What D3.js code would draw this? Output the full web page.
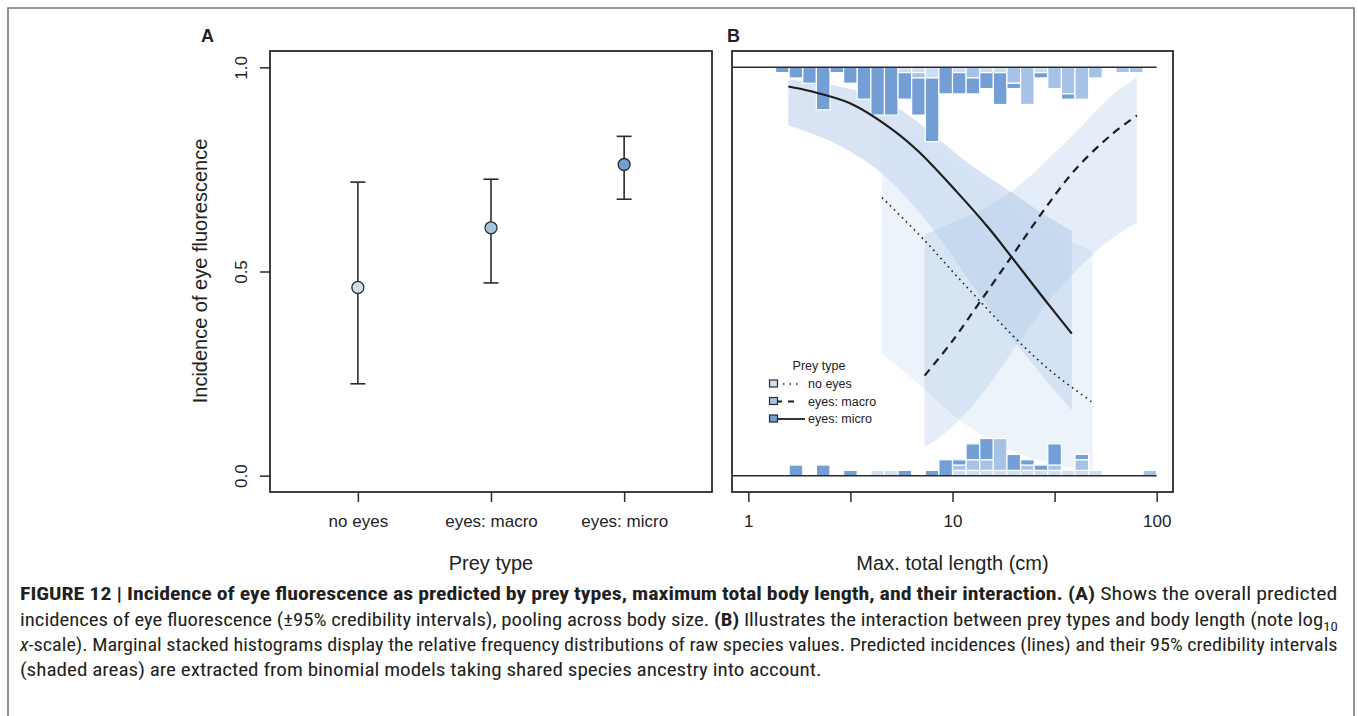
<!DOCTYPE html>
<html><head><meta charset="utf-8">
<script src="https://cdn.jsdelivr.net/npm/d3@7"></script>
<style>body{margin:0;background:#fff} svg{display:block} text{font-family:"Liberation Sans",Arial,sans-serif;fill:#222}</style>
</head><body><svg id="c" width="1358" height="716"></svg>
<script>
// ---------- data ----------
const preyTypes = ["no eyes", "eyes: macro", "eyes: micro"];
const predMean  = [0.461, 0.607, 0.762];
const predLower = [0.225, 0.472, 0.677];
const predUpper = [0.719, 0.726, 0.831];
const yTicks = [0, 0.5, 1];
const yTickLabels = ["0.0", "0.5", "1.0"];
const xTicksB = [1, 3.1623, 10, 31.623, 100];
const xTickLabelsB = ["1", "", "10", "", "100"];

// predicted lines (x in cm, y incidence)
const microX = [1.57, 2, 3.15, 5, 6.78, 10.5, 15, 19.5, 28, 38.4];
const microY = [0.953, 0.942, 0.912, 0.85, 0.795, 0.695, 0.607, 0.535, 0.434, 0.348];
const macroX = [7.3, 10, 13.6, 19.5, 28, 40, 60, 80];
const macroY = [0.245, 0.33, 0.425, 0.537, 0.65, 0.75, 0.835, 0.882];
const noeyesX = [4.52, 7.34, 10, 13.6, 20, 30, 48.6];
const noeyesY = [0.681, 0.575, 0.50, 0.428, 0.34, 0.258, 0.179];

// credibility bands
const microBandX  = [1.57, 2, 3, 5, 7, 9, 12, 20, 28, 38.4];
const microBandHi = [0.97, 0.965, 0.95, 0.91, 0.86, 0.815, 0.765, 0.69, 0.64, 0.60];
const microBandLo = [0.858, 0.84, 0.80, 0.72, 0.64, 0.57, 0.48, 0.33, 0.24, 0.16];
const macroBandX  = [7.3, 10, 15, 20, 30, 40, 60, 80];
const macroBandHi = [0.59, 0.62, 0.66, 0.70, 0.78, 0.84, 0.93, 0.975];
const macroBandLo = [0.07, 0.12, 0.22, 0.31, 0.43, 0.50, 0.58, 0.62];
const noeyesBandX  = [4.52, 7, 10, 15, 20, 30, 48.6];
const noeyesBandHi = [0.858, 0.82, 0.77, 0.71, 0.66, 0.60, 0.55];
const noeyesBandLo = [0.30, 0.22, 0.15, 0.09, 0.06, 0.03, 0.015];

// marginal histograms: counts per log10 bin (bin k spans k/15 .. (k+1)/15)
const topNo  = [0,0,0,0,0,0,0,0,0,0,0,1,1,2,0,1,0,1,1,0,0,1,0,0,0,0,0,0,0,0];
const topMac = [0,0,0,0,0,0,0,0,0,0,0,0,1,0,0,0,2,0,0,3,7,0,4,5,6,2,0,1,1,0];
const topMic = [0,0,1,2,3,8,1,3,6,9,9,5,7,12,5,4,3,3,6,1,0,1,0,1,0,0,0,0,0,0];
const botNo  = [0,0,0,0,0,0,0,0,0,1,1,0,0,0,0,1,1,1,1,1,1,1,1,1,1,1,0,0,0,0];
const botMac = [0,0,0,0,0,0,0,0,0,0,0,0,0,0,0,1,2,2,6,0,1,0,1,0,2,0,0,0,0,1];
const botMic = [0,0,0,2,0,2,0,1,0,0,0,1,0,1,3,1,3,4,0,3,1,1,4,0,1,0,0,0,0,0];
const binsPerDecade = 15;
const histUnit = 0.013;

// ---------- style ----------
const colNo = "#cfdff2", colMac = "#a6c3e7", colMic = "#739fd6";
const axisCol = "#2b2b2b";
const tickFs = 17, labFs = 20;

const svg = d3.select("#c");

// outer frame
svg.append("path").attr("d", "M8,716 V8 H1354 V716").attr("fill", "none")
   .attr("stroke", "#777").attr("stroke-width", 1.6);

// ---------- scales ----------
const y = d3.scaleLinear().domain([-0.04, 1.04]).range([492, 51]);
const xA = d3.scaleLinear().domain([0.34, 3.66]).range([270, 712]);
const xB = d3.scaleLog().domain([Math.pow(10, -0.08), Math.pow(10, 2.08)]).range([732, 1173]);

// ---------- Panel A ----------
const gA = svg.append("g");
gA.append("rect").attr("x", xA.range()[0]).attr("y", y.range()[1])
  .attr("width", xA.range()[1] - xA.range()[0]).attr("height", y.range()[0] - y.range()[1])
  .attr("fill", "none").attr("stroke", axisCol).attr("stroke-width", 1.8);

const yAxis = gA.append("g").attr("transform", `translate(${xA.range()[0]},0)`)
  .call(d3.axisLeft(y).tickValues(yTicks).tickSize(10).tickFormat((d, i) => yTickLabels[i]));
yAxis.select(".domain").remove();
yAxis.selectAll("line").attr("stroke", axisCol).attr("stroke-width", 1.5);
yAxis.selectAll("text").attr("font-size", tickFs).attr("fill", "#222")
  .attr("x", null).attr("y", null).attr("text-anchor", "middle").attr("dy", "0.35em")
  .attr("transform", "translate(-29,0) rotate(-90)");

const xAxisA = gA.append("g").attr("transform", `translate(0,${y.range()[0]})`)
  .call(d3.axisBottom(xA).tickValues([1, 2, 3]).tickSize(10).tickPadding(13).tickFormat((d) => preyTypes[d - 1]));
xAxisA.select(".domain").remove();
xAxisA.selectAll("line").attr("stroke", axisCol).attr("stroke-width", 1.5);
xAxisA.selectAll("text").attr("font-size", tickFs).attr("fill", "#222");

gA.append("text").attr("x", 491).attr("y", 570).attr("text-anchor", "middle")
  .attr("font-size", labFs).text("Prey type");
gA.append("text").attr("transform", `translate(207,271) rotate(-90)`).attr("text-anchor", "middle")
  .attr("font-size", labFs).text("Incidence of eye fluorescence");
svg.append("text").attr("x", 201).attr("y", 42).attr("font-size", 18).attr("font-weight", "bold").text("A");

const ptCols = [colNo, colMac, colMic];
preyTypes.forEach((p, i) => {
  const cx = xA(i + 1);
  gA.append("line").attr("x1", cx).attr("x2", cx).attr("y1", y(predLower[i])).attr("y2", y(predUpper[i]))
    .attr("stroke", axisCol).attr("stroke-width", 1.6);
  [predLower[i], predUpper[i]].forEach(v => gA.append("line").attr("x1", cx - 7.5).attr("x2", cx + 7.5)
    .attr("y1", y(v)).attr("y2", y(v)).attr("stroke", axisCol).attr("stroke-width", 1.6));
  gA.append("circle").attr("cx", cx).attr("cy", y(predMean[i])).attr("r", 6)
    .attr("fill", ptCols[i]).attr("stroke", axisCol).attr("stroke-width", 1.3);
});

// ---------- Panel B ----------
const gB = svg.append("g");
const bandData = [
  {x: microBandX, hi: microBandHi, lo: microBandLo, col: colMic, op: 0.28},
  {x: noeyesBandX, hi: noeyesBandHi, lo: noeyesBandLo, col: colNo, op: 0.38},
  {x: macroBandX, hi: macroBandHi, lo: macroBandLo, col: colMac, op: 0.30}
];
const area = d3.area().x(d => xB(d.x)).y0(d => y(d.lo)).y1(d => y(d.hi)).curve(d3.curveMonotoneX);
bandData.forEach(b => {
  const pts = b.x.map((v, i) => ({x: v, hi: b.hi[i], lo: b.lo[i]}));
  gB.append("path").attr("d", area(pts)).attr("fill", b.col).attr("fill-opacity", b.op);
});

// histograms
function drawHist(series, cols, top) {
  const n = series[0].length;
  for (let k = 0; k < n; k++) {
    const x0 = xB(Math.pow(10, k / binsPerDecade));
    const x1 = xB(Math.pow(10, (k + 1) / binsPerDecade));
    let acc = 0;
    series.forEach((s, j) => {
      const c = s[k];
      if (!c) return;
      const a = acc * histUnit, b = (acc + c) * histUnit;
      const v0 = top ? 1 - a : a, v1 = top ? 1 - b : b;
      gB.append("rect").attr("x", x0).attr("width", x1 - x0)
        .attr("y", Math.min(y(v0), y(v1))).attr("height", Math.abs(y(v0) - y(v1)))
        .attr("fill", cols[j]).attr("stroke", "#fff").attr("stroke-width", 1.2);
      acc += c;
    });
  }
}
drawHist([topNo, topMac, topMic], [colNo, colMac, colMic], true);
drawHist([botNo, botMac, botMic], [colNo, colMac, colMic], false);

// baseline lines
[0, 1].forEach(v => gB.append("line").attr("x1", xB.range()[0]).attr("x2", xB(100))
  .attr("y1", y(v)).attr("y2", y(v)).attr("stroke", axisCol).attr("stroke-width", 1.5));

// predicted lines
const line = d3.line().x(d => xB(d[0])).y(d => y(d[1])).curve(d3.curveCatmullRom.alpha(0.5));
gB.append("path").attr("d", line(microX.map((v, i) => [v, microY[i]])))
  .attr("fill", "none").attr("stroke", "#1e1e1e").attr("stroke-width", 2.2);
gB.append("path").attr("d", line(macroX.map((v, i) => [v, macroY[i]])))
  .attr("fill", "none").attr("stroke", "#1e1e1e").attr("stroke-width", 2.2).attr("stroke-dasharray", "8,6");
gB.append("path").attr("d", line(noeyesX.map((v, i) => [v, noeyesY[i]])))
  .attr("fill", "none").attr("stroke", "#1e1e1e").attr("stroke-width", 1.6)
  .attr("stroke-dasharray", "1.6,4");

// box B
gB.append("rect").attr("x", xB.range()[0]).attr("y", y.range()[1])
  .attr("width", xB.range()[1] - xB.range()[0]).attr("height", y.range()[0] - y.range()[1])
  .attr("fill", "none").attr("stroke", axisCol).attr("stroke-width", 1.8);

const xAxisB = gB.append("g").attr("transform", `translate(0,${y.range()[0]})`)
  .call(d3.axisBottom(xB).tickValues(xTicksB).tickSize(10).tickPadding(13).tickFormat((d, i) => xTickLabelsB[i]));
xAxisB.select(".domain").remove();
xAxisB.selectAll("line").attr("stroke", axisCol).attr("stroke-width", 1.5);
xAxisB.selectAll("text").attr("font-size", tickFs).attr("fill", "#222");
gB.append("text").attr("x", xB(10)).attr("y", 570).attr("text-anchor", "middle")
  .attr("font-size", labFs).text("Max. total length (cm)");
svg.append("text").attr("x", 727).attr("y", 42).attr("font-size", 18).attr("font-weight", "bold").text("B");

// legend
const lg = gB.append("g");
lg.append("text").attr("x", 819).attr("y", 370).attr("text-anchor", "middle").attr("font-size", 12.5).text("Prey type");
const legRows = [
  {label: "no eyes", col: colNo, x1: 783, x2: 801, dash: "1.5,5", w: 1.6},
  {label: "eyes: macro", col: colMac, x1: 777, x2: 794, dash: "5,6,6,20", w: 1.8},
  {label: "eyes: micro", col: colMic, x1: 777, x2: 805, dash: null, w: 1.8}
];
legRows.forEach((r, i) => {
  const yy = 384 + i * 17.5;
  lg.append("line").attr("x1", r.x1).attr("x2", r.x2).attr("y1", yy).attr("y2", yy)
    .attr("stroke", "#1e1e1e").attr("stroke-width", r.w).attr("stroke-dasharray", r.dash);
  lg.append("rect").attr("x", 769.5).attr("y", yy - 4).attr("width", 8).attr("height", 7)
    .attr("fill", r.col).attr("stroke", "#2b2b2b").attr("stroke-width", 1.2);
  lg.append("text").attr("x", 808).attr("y", yy).attr("dy", "0.35em").attr("font-size", 12.5).text(r.label);
});

// ---------- caption ----------
const capFont = '"Liberation Sans Narrow","Roboto Condensed","Liberation Sans",Arial,sans-serif';
const capLines = [
  {y: 600, w: 1318, parts: [
    {t: "FIGURE 12 | Incidence of eye fluorescence as predicted by prey types, maximum total body length, and their interaction. (A)", b: true},
    {t: " Shows the overall predicted"}]},
  {y: 626, w: 1318, parts: [
    {t: "incidences of eye fluorescence (±95% credibility intervals), pooling across body size. "},
    {t: "(B)", b: true},
    {t: " Illustrates the interaction between prey types and body length (note log"},
    {t: "10", sub: true}]},
  {y: 651, w: 1318, parts: [
    {t: "x", i: true},
    {t: "-scale). Marginal stacked histograms display the relative frequency distributions of raw species values. Predicted incidences (lines) and their 95% credibility intervals"}]},
  {y: 676, w: 802, parts: [
    {t: "(shaded areas) are extracted from binomial models taking shared species ancestry into account."}]}
];
capLines.forEach(l => {
  const g = svg.append("g");
  const t = g.append("text").attr("x", 0).attr("y", 0).style("font-family", capFont).attr("font-size", 17.5).style("fill", "#231f20");
  l.parts.forEach(p => {
    const ts = t.append("tspan").text(p.t);
    if (p.b) ts.attr("font-weight", "bold");
    if (p.i) ts.attr("font-style", "italic");
    if (p.sub) ts.attr("font-size", 12.5).attr("dy", 5);
  });
  const w = t.node().getComputedTextLength();
  g.attr("transform", `translate(20,${l.y}) scale(${l.w / w},1)`);
});
</script></body></html>
